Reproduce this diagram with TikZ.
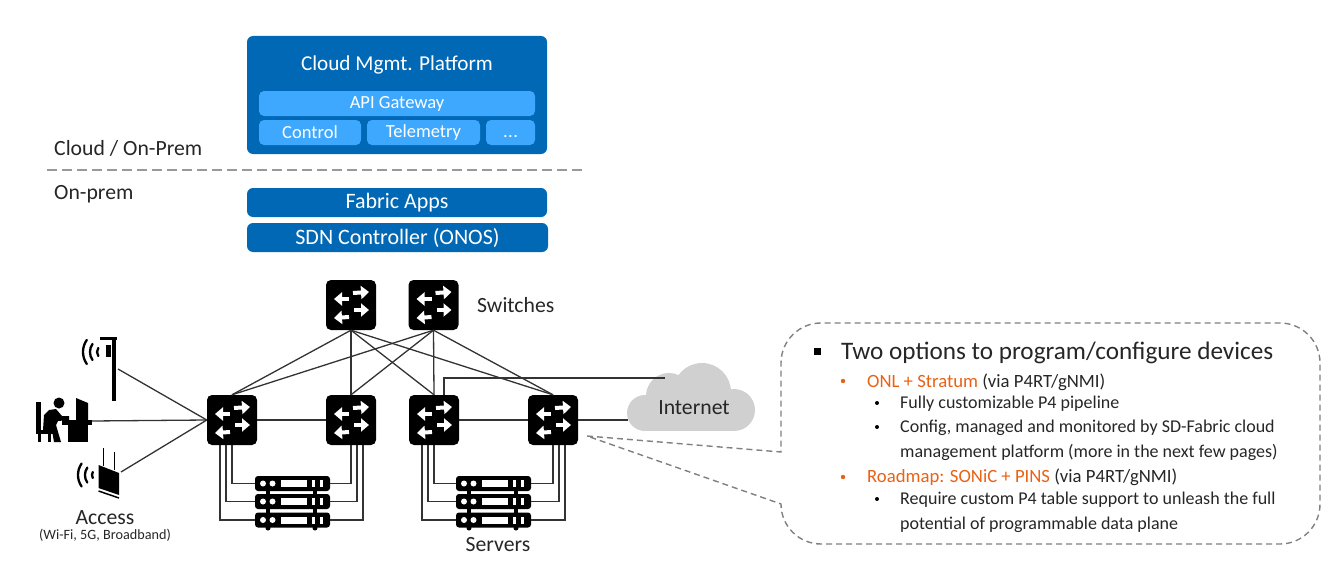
\documentclass[tikz,border=0pt]{standalone}
\usepackage{fontspec}
\setmainfont{Carlito}
\usetikzlibrary{arrows.meta}
\definecolor{fabricblue}{HTML}{0068B5}
\definecolor{lightblue}{HTML}{3EA8FF}
\definecolor{roadorange}{HTML}{E96115}
\definecolor{cloudgray}{HTML}{D0D0D0}
\newcommand{\fsize}[1]{\fontsize{#1}{#1}\selectfont}
\tikzset{
	bluebox/.style={fill=fabricblue, rounded corners=6pt, text=white, inner sep=0pt, font=\fsize{22}},
	subbox/.style={fill=lightblue, rounded corners=5pt, text=white, inner sep=0pt, font=\fsize{18.5}},
	label/.style={inner sep=0pt, text=black!85, font=\fsize{21.7}},
	bodytext/.style={inner sep=0pt, anchor=west, text=black!85, font=\fsize{18}},
	wire/.style={line width=1.3pt, draw=black!80},
	calloutline/.style={line width=1.4pt, draw=black!50, dash pattern=on 6pt off 4pt},
	swarrow/.style={white, line width=4pt, -{Triangle[length=8pt,width=13pt]}},
	wifi/.style={line width=2.3pt, line cap=round},
	switchbox/.style={fill=black, rounded corners=5pt, minimum size=50pt, inner sep=0pt,
		path picture={
			\begin{scope}[shift={(path picture bounding box.center)}, sharp corners]
				\draw[swarrow] (2, -12) -- (18, -13);
				\draw[swarrow] (-2, -6) -- (-17, -6);
				\draw[swarrow] (3, 5) -- (18, 5);
				\draw[swarrow] (-2, 12) -- (-17, 13);
			\end{scope}
		}},
	rack/.style={fill=black, rounded corners=3pt, minimum width=75pt, minimum height=15pt, inner sep=0pt,
		path picture={
			\begin{scope}[shift={(path picture bounding box.center)}, sharp corners]
				\fill[white] (-29.5, 0) circle (3);
				\fill[white] (-20, 0) circle (3);
				\fill[white] (-11.5, -3.5) rectangle (14.5, 3.5);
				\fill[white] (19, -3.5) rectangle (22, 3.5);
				\fill[white] (27, -3.5) rectangle (30, 3.5);
			\end{scope}
		}},
}

\begin{document}
\begin{tikzpicture}[x=1pt, y=-1pt]
	\useasboundingbox (0, 0) rectangle (1336, 578);

	%%%%% PLATFORM %%%%%
	\node[bluebox, minimum width=300pt, minimum height=118pt] (cloudbox) at (397, 95) {};
	\node[inner sep=0pt, text=white, font=\fsize{21.2}] (cloudtitle) at (397, 64.5) {Cloud Mgmt. Platform};
	\node[subbox, minimum width=276pt, minimum height=25pt] (apigw) at (397, 103.5) {\raisebox{-1pt}{API Gateway}};
	\node[subbox, minimum width=102pt, minimum height=25pt] (control) at (310, 132.5) {Control};
	\node[subbox, minimum width=113pt, minimum height=25pt] (telemetry) at (423.5, 132.5) {\raisebox{-1pt}{Telemetry}};
	\node[subbox, minimum width=49pt, minimum height=25pt, text depth=0pt, text height=9pt] (more) at (510.5, 132.5) {.\kern0.5pt.\kern0.5pt.};
	\node[bluebox, minimum width=300pt, minimum height=29pt] (fabricapps) at (397, 202.5) {\raisebox{-1pt}{Fabric Apps}};
	\node[bluebox, minimum width=301pt, minimum height=29pt] (sdnctrl) at (397.5, 237.5) {\raisebox{-1pt}{SDN Controller (ONOS)}};

	\coordinate (sepl) at (47, 170);
	\coordinate (sepr) at (585, 170);
	\draw[line width=2.3pt, draw=black!40, dash pattern=on 10pt off 5pt] (sepl) -- (sepr);
	\node[label, anchor=west] (cloudprem) at (54, 148.5) {Cloud / On-Prem};
	\node[label, anchor=west] (onprem) at (54, 194) {On-prem};

	%%%%% SWITCHES %%%%%
	\node[switchbox] (spinea) at (351, 305) {};
	\node[switchbox] (spineb) at (433.5, 305) {};
	\node[switchbox] (leafa) at (232, 420) {};
	\node[switchbox] (leafb) at (351, 420) {};
	\node[switchbox] (leafc) at (434, 420) {};
	\node[switchbox] (leafd) at (553, 420) {};
	\node[label, anchor=west] (switches) at (477, 305.5) {Switches};

	\draw[wire] (spinea.south) -- (leafa.north);
	\draw[wire] (spinea.south) -- (leafb.north);
	\draw[wire] (spinea.south) -- (leafc.north);
	\draw[wire] (spinea.south) -- (leafd.north);
	\draw[wire] (spineb.south) -- (leafa.north);
	\draw[wire] (spineb.south) -- (leafb.north);
	\draw[wire] (spineb.south) -- (leafc.north);
	\draw[wire] (spineb.south) -- (leafd.north);
	\draw[wire] (leafa.east) -- (leafb.west);
	\draw[wire] (leafc.east) -- (leafd.west);

	%%%%% SERVERS %%%%%
	\fill (266, 480) rectangle (270, 526);
	\fill (313, 480) rectangle (317, 526);
	\fill (467, 480) rectangle (471, 526);
	\fill (514, 480) rectangle (518, 526);
	\node[rack] (rackaa) at (292.5, 483.5) {};
	\node[rack] (rackab) at (292.5, 501.5) {};
	\node[rack] (rackac) at (292.5, 520) {};
	\node[rack] (rackba) at (493.5, 483.5) {};
	\node[rack] (rackbb) at (493.5, 501.5) {};
	\node[rack] (rackbc) at (493.5, 520) {};
	\fill (268, 528) circle (2.5);
	\fill (315, 528) circle (2.5);
	\fill (469, 528) circle (2.5);
	\fill (516, 528) circle (2.5);
	\node[label] (servers) at (498, 545) {Servers};

	\draw[wire] (leafa.south) |- (rackaa.west);
	\draw[wire] ([xshift=-6pt]leafa.south) |- (rackab.west);
	\draw[wire] ([xshift=-12pt]leafa.south) |- (rackac.west);
	\draw[wire] (leafb.south) |- (rackaa.east);
	\draw[wire] ([xshift=6pt]leafb.south) |- (rackab.east);
	\draw[wire] ([xshift=12pt]leafb.south) |- (rackac.east);
	\draw[wire] (leafc.south) |- (rackba.west);
	\draw[wire] ([xshift=-6pt]leafc.south) |- (rackbb.west);
	\draw[wire] ([xshift=-12pt]leafc.south) |- (rackbc.west);
	\draw[wire] (leafd.south) |- (rackba.east);
	\draw[wire] ([xshift=6pt]leafd.south) |- (rackbb.east);
	\draw[wire] ([xshift=12pt]leafd.south) |- (rackbc.east);

	%%%%% INTERNET %%%%%
	\fill[cloudgray] (702, 392) circle (29);
	\fill[cloudgray] (669, 396) circle (23);
	\fill[cloudgray] (645, 413) circle (18);
	\fill[cloudgray] (734, 410) circle (21);
	\fill[cloudgray] (645, 405) rectangle (734, 431);
	\node[label] (internet) at (694, 408) {Internet};
	\coordinate (cloudw) at (628, 420);
	\coordinate (cloudt) at (665, 378);
	\draw[wire] (leafd.east) -- (cloudw);
	\draw[wire] ([xshift=10pt]leafc.north) |- (cloudt);

	%%%%% ACCESS %%%%%
	\fill (100, 336.5) rectangle (117, 339.5);
	\fill (111.5, 338) rectangle (115.5, 401);
	\fill (106, 345) rectangle (111, 357);
	\draw[wifi] (98.3, 356) arc[start angle=145, end angle=215, radius=7];
	\draw[wifi] (92.5, 360) arc[start angle=145, end angle=215, radius=14];
	\draw[wifi] (86.8, 364) arc[start angle=145, end angle=215, radius=21];

	\fill (36, 402) rectangle (41, 433);
	\fill (36, 430) rectangle (53, 434);
	\fill (38, 434) rectangle (41, 442);
	\fill (48, 434) rectangle (51, 442);
	\fill (59, 403) circle (5.5);
	\fill (43, 430) -- (44, 415) -- (49, 410) -- (56, 409) -- (62, 416) -- (69, 416) -- (69, 420) -- (58, 421) -- (56, 425) -- (61, 442) -- (54, 442) -- (52, 430) -- cycle;
	\fill (76, 398) -- (88, 403) -- (88, 420) -- (76, 420) -- cycle;
	\fill (62, 420) rectangle (92, 425);
	\fill (68, 425) rectangle (88, 442);

	\fill (98.5, 465) -- (119, 473) -- (119, 495) -- (98.5, 488) -- cycle;
	\draw[line width=1.5pt] (98.5, 491) -- (119, 498);
	\draw[line width=1pt] (103, 448) -- (103, 466);
	\draw[line width=1pt] (114, 452) -- (114, 470);
	\draw[wifi] (92.8, 478) arc[start angle=150, end angle=210, radius=6];
	\draw[wifi] (87.3, 482.5) arc[start angle=145, end angle=215, radius=13];
	\draw[wifi] (81.6, 486.5) arc[start angle=145, end angle=215, radius=20];

	\coordinate (towerend) at (118, 369);
	\coordinate (deskend) at (92, 421);
	\coordinate (apend) at (121, 472);
	\draw[wire] (towerend) -- (leafa.west);
	\draw[wire] (deskend) -- (leafa.west);
	\draw[wire] (apend) -- (leafa.west);
	\node[label] (access) at (105, 518) {Access};
	\node[inner sep=0pt, text=black!85, font=\fsize{14.2}] (accessnote) at (105, 535) {(Wi-Fi, 5G, Broadband)};

	%%%%% CALLOUT %%%%%
	\coordinate (callouttip) at (587, 436);
	\draw[calloutline] (callouttip) -- (781, 452) -- (781, 363) arc[start angle=180, end angle=270, radius=40] -- (1280, 323) arc[start angle=270, end angle=360, radius=40] -- (1320, 504) arc[start angle=0, end angle=90, radius=40] -- (821, 544) arc[start angle=90, end angle=180, radius=40] -- cycle;

	\fill (813.5, 347.5) rectangle (820.5, 354.5);
	\node[bodytext, font=\fsize{25.2}] (lineone) at (841, 352.5) {Two options to program/configure devices};
	\fill[roadorange] (843, 381) circle (2.2);
	\node[bodytext, font=\fsize{18.7}] (linetwo) at (867, 382) {\textcolor{roadorange}{ONL + Stratum} (via P4RT/gNMI)};
	\fill (877, 403) circle (2);
	\node[bodytext] (linethree) at (900, 404) {Fully customizable P4 pipeline};
	\fill (877, 427) circle (2);
	\node[bodytext] (linefour) at (900, 428) {Config, managed and monitored by SD-Fabric cloud};
	\node[bodytext] (linefive) at (900, 452.5) {management platform (more in the next few pages)};
	\fill[roadorange] (843, 477) circle (2.2);
	\node[bodytext, font=\fsize{18.7}] (linesix) at (867, 477) {\textcolor{roadorange}{Roadmap: SONiC + PINS} (via P4RT/gNMI)};
	\fill (877, 499) circle (2);
	\node[bodytext] (lineseven) at (900, 500) {Require custom P4 table support to unleash the full};
	\node[bodytext] (lineeight) at (900, 524.5) {potential of programmable data plane};
\end{tikzpicture}
\end{document}
